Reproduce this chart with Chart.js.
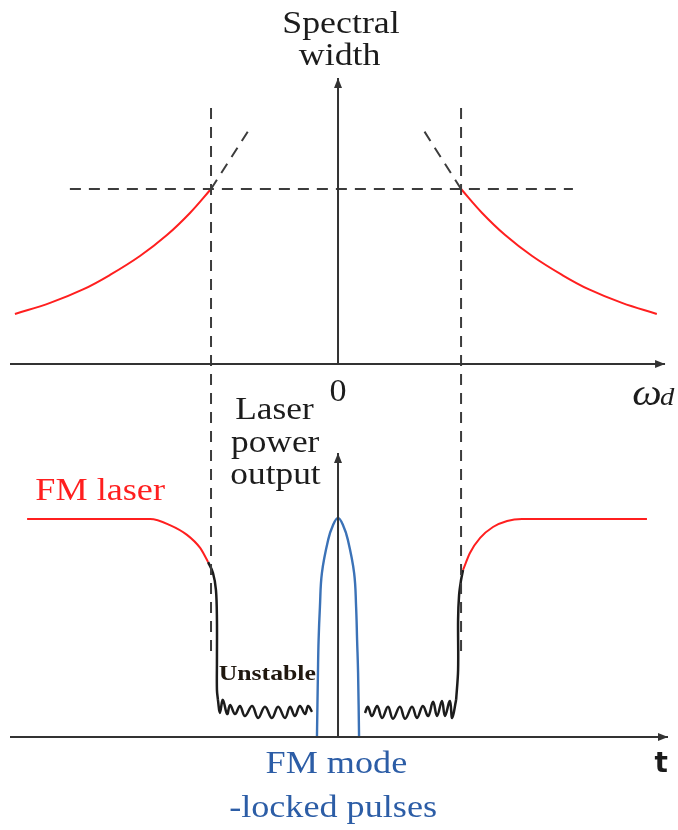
<!DOCTYPE html>
<html>
<head>
<meta charset="utf-8">
<script src="https://cdn.jsdelivr.net/npm/chart.js@4/dist/chart.umd.min.js"></script>
<style>
  html, body { margin: 0; padding: 0; background: #fff; }
  canvas { display: block; }
</style>
</head>
<body>
<canvas id="c" width="678" height="830"></canvas>
<script>
// ---- scale ranges (arbitrary units) ----
const detuningRange = [-102.74, 103.34];   // shared horizontal axis (ω_d / t)
const widthRange = [-26.63, 20.8];         // spectral width (upper panel)
const powerRange = [-4.27, 33.81];         // laser power output (lower panel)

// ---- locking-range boundaries ----
const thresholdLeft = -38.6;
const thresholdRight = 37.4;
const guideTop = 14.63;        // vertical guides, in spectral-width units
const guideBottom = -16.63;
const lockLevel = 10;          // spectral width at the boundaries
const lockGuideFrom = -81.5;
const lockGuideTo = 71.4;

// ---- upper panel: spectral width outside the locking range ----
const widthLeftOmega  = [-98.2, -87.5, -77.5, -69.3, -60.2, -52.0, -45.0, -38.6];
const widthLeftValue  = [2.86, 3.49, 4.26, 5.09, 6.17, 7.37, 8.63, 10.0];
const widthRightOmega = [37.4, 43.8, 50.8, 59.0, 68.1, 76.3, 86.3, 96.9];
const widthRightValue = [10.0, 8.63, 7.37, 6.17, 5.09, 4.26, 3.49, 2.86];

// extrapolated linear trends inside the locking range (dashed)
const trendLeftOmega  = [-38.6, -26.7];
const trendLeftValue  = [10.0, 13.49];
const trendRightOmega = [37.4, 25.2];
const trendRightValue = [10.0, 13.6];

// ---- lower panel: laser power output ----
const fmLeftTime   = [-94.5, -57.1, -51.1, -45.9, -41.9, -39.5];
const fmLeftPower  = [10.0, 10.0, 9.72, 9.27, 8.67, 8.03];
const fmRightTime  = [38.0, 40.1, 43.2, 47.1, 51.4, 55.9, 93.9];
const fmRightPower = [7.66, 8.44, 9.13, 9.63, 9.91, 10.0, 10.0];

const dropLeftTime   = [-39.5, -38.0, -37.1, -36.8, -36.8, -36.8, -36.5];
const dropLeftPower  = [8.03, 7.52, 6.74, 5.37, 3.53, 2.16, 1.70];
const riseRightTime  = [35.9, 36.5, 36.5, 36.8, 37.4, 38.0];
const riseRightPower = [1.70, 3.07, 5.37, 6.51, 7.20, 7.66];

const unstableLeftTime  = [-36.5, -35.9, -35.0, -33.7, -32.8, -31.3, -29.8, -28.3, -26.1, -24.3, -22.2,
                           -20.1, -18.2, -16.1, -14.6, -13.1, -11.6, -10.0, -9.1, -7.9];
const unstableLeftPower = [1.70, 1.10, 1.70, 1.05, 1.47, 1.05, 1.42, 0.96, 1.42, 0.87, 1.38,
                           0.87, 1.38, 0.87, 1.38, 0.96, 1.42, 1.05, 1.42, 1.15];
const unstableRightTime  = [8.2, 9.1, 10.3, 11.9, 13.4, 15.2, 16.7, 18.8, 20.4, 22.5, 24.0,
                            25.8, 27.4, 28.9, 30.1, 31.6, 32.5, 34.0, 34.7, 35.9];
const unstableRightPower = [1.10, 1.38, 0.96, 1.42, 0.87, 1.38, 0.83, 1.38, 0.83, 1.38, 0.87,
                            1.42, 0.96, 1.61, 0.96, 1.65, 0.96, 1.65, 0.87, 1.70];

const pulseTime  = [-6.4, -6.1, -5.9, -5.5, -4.9, -3.0, -1.5, 0, 1.5, 3.0, 4.9, 5.5, 5.8, 6.1, 6.4];
const pulsePower = [0, 2.94, 4.45, 5.96, 7.52, 9.04, 9.72, 10.05, 9.72, 9.04, 7.52, 5.96, 4.45, 2.94, 0];

// ---- axes extents ----
const axisFrom = -99.7;
const widthAxisTo = 99.4;
const powerAxisTo = 100.3;
const widthAxisTop = 16.34;
const powerAxisTop = 13.03;

// ---- colours ----
const RED = '#ff1f1f';
const BLUE = '#3b72b7';
const BLUE_TEXT = '#2c5da6';
const INK = '#1c1c1c';
const AXIS = '#333333';
const GUIDE = '#3c3c3c';

const pts = (xs, ys) => xs.map((x, i) => ({ x, y: ys[i] }));

function line(xs, ys, yAxisID, color, width, extra) {
  return Object.assign({
    data: pts(xs, ys),
    yAxisID,
    showLine: true,
    borderColor: color,
    backgroundColor: color,
    borderWidth: width,
    pointRadius: 0,
    pointHoverRadius: 0,
    fill: false,
    tension: 0,
    clip: false
  }, extra || {});
}

const dash = { borderDash: [11, 8] };
const monotone = { cubicInterpolationMode: 'monotone' };
const curved = { tension: 0.4 };

const datasets = [
  // axes
  line([0, 0], [0, widthAxisTop], 'yW', AXIS, 2, { arrowHead: true }),
  line([axisFrom, widthAxisTo], [0, 0], 'yW', AXIS, 2, { arrowHead: true }),
  line([0, 0], [0, powerAxisTop], 'yP', AXIS, 2, { arrowHead: true }),
  line([axisFrom, powerAxisTo], [0, 0], 'yP', AXIS, 2, { arrowHead: true }),

  // locking-range guides
  line([thresholdLeft, thresholdLeft], [guideTop, guideBottom], 'yW', GUIDE, 2, dash),
  line([thresholdRight, thresholdRight], [guideTop, guideBottom], 'yW', GUIDE, 2, dash),
  line([lockGuideFrom, lockGuideTo], [lockLevel, lockLevel], 'yW', GUIDE, 2, dash),
  line(trendLeftOmega, trendLeftValue, 'yW', GUIDE, 2, dash),
  line(trendRightOmega, trendRightValue, 'yW', GUIDE, 2, dash),

  // spectral width
  line(widthLeftOmega, widthLeftValue, 'yW', RED, 2, curved),
  line(widthRightOmega, widthRightValue, 'yW', RED, 2, curved),

  // FM laser output and unstable region
  line(fmLeftTime, fmLeftPower, 'yP', RED, 2, monotone),
  line(fmRightTime, fmRightPower, 'yP', RED, 2, monotone),
  line(dropLeftTime, dropLeftPower, 'yP', INK, 2.5, { tension: 0.35 }),
  line(riseRightTime, riseRightPower, 'yP', INK, 2.5, { tension: 0.35 }),
  line(unstableLeftTime, unstableLeftPower, 'yP', INK, 2.5, curved),
  line(unstableRightTime, unstableRightPower, 'yP', INK, 2.5, curved),

  // FM mode-locked pulse
  line(pulseTime, pulsePower, 'yP', BLUE, 2.4, curved)
];

// text placed in axis units: [text, x, y, axis, font, colour, horizontal stretch, align]
const SERIF = '"Liberation Serif", "Times New Roman", serif';
const labels = [
  ['Spectral', 0.9, 18.91, 'yW', '32px ' + SERIF, INK, 1.12, 'center'],
  ['width', 0.5, 17.09, 'yW', '32px ' + SERIF, INK, 1.12, 'center'],
  ['0', 0, -2.11, 'yW', '31px ' + SERIF, INK, 1.1, 'center'],
  ['ω', 89.4, -2.34, 'yW', 'italic 38px ' + SERIF, INK, 1.1, 'left'],
  ['d', 97.9, -2.34, 'yW', 'italic 26px ' + SERIF, INK, 1.1, 'left'],
  ['Laser', -19.3, 14.59, 'yP', '31px ' + SERIF, INK, 1.14, 'center'],
  ['power', -19.1, 13.07, 'yP', '31px ' + SERIF, INK, 1.14, 'center'],
  ['output', -19.0, 11.61, 'yP', '31px ' + SERIF, INK, 1.14, 'center'],
  ['FM laser', -72.3, 10.87, 'yP', '32px ' + SERIF, RED, 1.13, 'center'],
  ['Unstable', -21.5, 2.61, 'yP', 'bold 22px ' + SERIF, '#20180f', 1.17, 'center'],
  ['FM mode', -0.5, -1.65, 'yP', '32px ' + SERIF, BLUE_TEXT, 1.13, 'center'],
  ['-locked pulses', -1.5, -3.67, 'yP', '32px ' + SERIF, BLUE_TEXT, 1.13, 'center'],
  ['t', 98.2, -1.61, 'yP', 'bold 28px "DejaVu Sans", sans-serif', '#1a1a1a', 1.0, 'center']
];

// arrowheads at the last point of axis lines
const arrowHeads = {
  id: 'arrowHeads',
  afterDatasetsDraw(chart) {
    const ctx = chart.ctx;
    chart.data.datasets.forEach((ds, i) => {
      if (!ds.arrowHead) return;
      const el = chart.getDatasetMeta(i).data;
      const a = el[el.length - 2], b = el[el.length - 1];
      const ang = Math.atan2(b.y - a.y, b.x - a.x);
      ctx.save();
      ctx.translate(b.x, b.y);
      ctx.rotate(ang);
      ctx.fillStyle = ds.borderColor;
      ctx.beginPath();
      ctx.moveTo(0, 0);
      ctx.lineTo(-10, -4);
      ctx.lineTo(-10, 4);
      ctx.closePath();
      ctx.fill();
      ctx.restore();
    });
  }
};

// text annotations
const textLabels = {
  id: 'textLabels',
  afterDraw(chart) {
    const ctx = chart.ctx;
    const xs = chart.scales.x;
    labels.forEach(([text, x, y, axis, font, color, stretch, align]) => {
      const px = xs.getPixelForValue(x);
      const py = chart.scales[axis].getPixelForValue(y);
      ctx.save();
      ctx.translate(px, py);
      ctx.scale(stretch, 1);
      ctx.font = font;
      ctx.fillStyle = color;
      ctx.textAlign = align;
      ctx.textBaseline = 'alphabetic';
      ctx.fillText(text, 0, 0);
      ctx.restore();
    });
  }
};

new Chart(document.getElementById('c'), {
  type: 'scatter',
  data: { datasets },
  options: {
    responsive: false,
    animation: false,
    devicePixelRatio: 1,
    layout: { padding: 0 },
    plugins: { legend: { display: false }, tooltip: { enabled: false } },
    events: [],
    scales: {
      x:  { type: 'linear', min: detuningRange[0], max: detuningRange[1], display: false },
      yW: { type: 'linear', position: 'left', min: widthRange[0], max: widthRange[1], display: false },
      yP: { type: 'linear', position: 'left', min: powerRange[0], max: powerRange[1], display: false }
    }
  },
  plugins: [arrowHeads, textLabels]
});
</script>
</body>
</html>
